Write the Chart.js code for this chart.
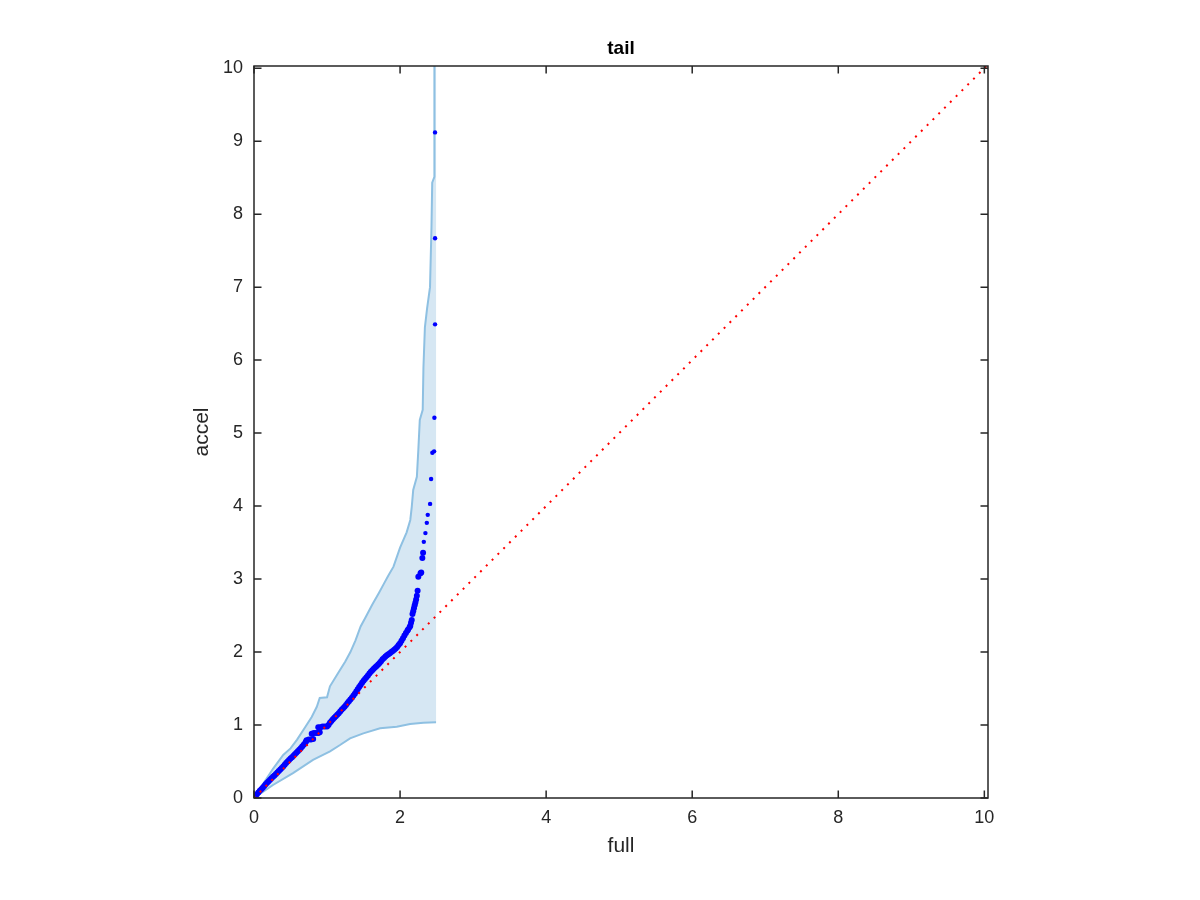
<!DOCTYPE html>
<html><head><meta charset="utf-8">
<script src="https://cdn.jsdelivr.net/npm/chart.js@4.4.1/dist/chart.umd.min.js"></script>
<style>html,body{margin:0;padding:0;background:#fff;}#wrap{width:1200px;height:900px;}</style>
</head><body><div id="wrap"><canvas id="c" width="1200" height="900"></canvas></div>
<script>
// Quantile points (full vs accel)
const qqFull = [0,0.02,0.04,0.06,0.08,0.10,0.12,0.14,0.16,0.18,0.20,0.22,0.24,0.26,0.28,0.30,0.32,0.34,0.36,0.38,
  0.40,0.42,0.44,0.46,0.48,0.50,0.52,0.54,0.56,0.58,0.60,0.62,0.64,0.66,0.68,0.70,0.71,
  0.72,0.75,0.78,0.81,0.79,0.82,0.85,0.88,0.90,0.88,0.91,0.94,0.97,1.00,1.02,1.04,1.06,1.08,1.10,1.12,1.14,1.16,
  1.18,1.20,1.22,1.24,1.26,1.28,1.30,1.32,1.34,1.36,1.38,1.40,1.42,1.44,1.46,1.48,1.50,1.52,1.54,1.56,1.58,1.60,
  1.62,1.64,1.66,1.68,1.70,1.72,1.74,1.76,1.78,1.80,1.82,1.84,1.86,1.88,1.90,1.92,1.94,1.96,1.98,2.00,2.02,2.04,
  2.06,2.08,2.10,2.11,2.13,2.14,2.15,2.16,2.17,2.18,2.19,2.20,2.21,2.22,2.23,2.24,2.25,2.28,2.29,2.305,2.315,
  2.325,2.347,2.366,2.379,2.411,2.425,2.442,2.466,2.470,2.479,2.479,2.479];
const qqAccel = [0,0.025,0.05,0.075,0.10,0.12,0.14,0.165,0.19,0.21,0.23,0.25,0.27,0.29,0.31,0.33,0.35,0.37,0.39,0.41,
  0.43,0.455,0.48,0.50,0.52,0.54,0.56,0.58,0.60,0.62,0.64,0.66,0.68,0.705,0.73,0.75,0.77,
  0.79,0.80,0.80,0.81,0.88,0.89,0.89,0.89,0.90,0.97,0.97,0.98,0.98,0.98,1.00,1.03,1.055,1.08,1.10,1.12,1.14,1.16,
  1.185,1.21,1.23,1.25,1.275,1.30,1.325,1.35,1.375,1.40,1.43,1.46,1.49,1.52,1.55,1.58,1.605,1.63,1.655,1.68,1.705,
  1.73,1.75,1.77,1.79,1.81,1.83,1.85,1.875,1.90,1.92,1.94,1.955,1.97,1.985,2.00,2.015,2.03,2.05,2.07,2.095,2.12,
  2.155,2.19,2.225,2.26,2.29,2.31,2.34,2.36,2.40,2.44,2.52,2.56,2.60,2.64,2.68,2.72,2.77,2.84,3.03,3.08,3.09,
  3.29,3.36,3.51,3.63,3.77,3.88,4.03,4.37,4.73,4.75,5.21,6.49,7.67,9.12];
// Confidence band
const upperFull = [0,0.13,0.26,0.40,0.50,0.59,0.70,0.79,0.86,0.90,1.00,1.04,1.15,1.25,1.32,1.39,1.46,1.53,1.62,
  1.71,1.77,1.84,1.91,2.00,2.09,2.14,2.16,2.18,2.23,2.25,2.27,2.31,2.32,2.34,2.37,2.41,2.43,2.44,2.47,2.47];
const upperAccel = [0,0.20,0.40,0.59,0.68,0.80,0.97,1.11,1.25,1.37,1.38,1.53,1.71,1.87,2.00,2.16,2.35,2.48,2.65,
  2.81,2.92,3.05,3.17,3.43,3.64,3.81,3.99,4.22,4.40,4.77,5.18,5.32,5.90,6.45,6.71,7.00,7.82,8.43,8.51,10.6];
const lowerFull = [0,0.260,0.534,0.808,1.041,1.178,1.315,1.497,1.726,1.955,2.137,2.319,2.493];
const lowerAccel = [0,0.178,0.342,0.521,0.640,0.726,0.818,0.886,0.955,0.977,1.014,1.032,1.037];
// Reference line y = x
const refLine = [0, 10.05];
const xTicks = [0,2,4,6,8,10];
const yTicks = [0,1,2,3,4,5,6,7,8,9,10];

const pts = (xs, ys) => xs.map((x, i) => ({x: x, y: ys[i]}));
const upperPts = pts(upperFull, upperAccel);
const lowerPts = pts(lowerFull, lowerAccel);
const bandPoly = upperPts.concat([{x: lowerFull[lowerFull.length-1], y: upperAccel[upperAccel.length-1]}])
  .concat(lowerPts.slice().reverse());

const FONT = '"Liberation Sans", Arial, Helvetica, sans-serif';
const AXC = '#262626';

const framePlugin = {
  id: 'frame',
  afterDatasetsDraw(chart) {
    const {ctx, chartArea: a, scales: {x, y}} = chart;
    ctx.save();
    ctx.strokeStyle = AXC; ctx.lineWidth = 1.5;
    ctx.strokeRect(a.left, a.top, a.right - a.left, a.bottom - a.top);
    const L = 7.5;
    ctx.beginPath();
    x.ticks.forEach(t => { const p = x.getPixelForValue(t.value);
      ctx.moveTo(p, a.bottom); ctx.lineTo(p, a.bottom - L); ctx.moveTo(p, a.top); ctx.lineTo(p, a.top + L); });
    y.ticks.forEach(t => { const p = y.getPixelForValue(t.value);
      ctx.moveTo(a.left, p); ctx.lineTo(a.left + L, p); ctx.moveTo(a.right, p); ctx.lineTo(a.right - L, p); });
    ctx.stroke();
    ctx.restore();
  }
};

new Chart(document.getElementById('c'), {
  type: 'scatter',
  data: {
    datasets: [
      { data: bandPoly, showLine: true, borderWidth: 0, pointRadius: 0, fill: 'shape',
        backgroundColor: '#d6e7f3', borderColor: 'rgba(0,0,0,0)', order: 6 },
      { data: upperPts, showLine: true, borderWidth: 2, pointRadius: 0, fill: false,
        borderColor: '#8ec0e2', order: 5 },
      { data: lowerPts, showLine: true, borderWidth: 2, pointRadius: 0, fill: false,
        borderColor: '#8ec0e2', order: 4 },
      { data: pts(qqFull, qqAccel), showLine: false,
        pointRadius: c => (c.raw && c.raw.y > 3.5 ? 2.2 : 3), borderWidth: 0,
        backgroundColor: '#0000ff', pointBorderColor: '#0000ff', order: 2 },
      { data: pts(refLine, refLine), showLine: true, borderWidth: 2, pointRadius: 0,
        borderColor: '#ff0000', borderDash: [2, 6.2], fill: false, order: 1 }
    ]
  },
  options: {
    responsive: false, animation: false, devicePixelRatio: 1,
    layout: { padding: { left: 0, right: 212, top: 0, bottom: 0 } },
    plugins: {
      legend: { display: false }, tooltip: { enabled: false },
      title: { display: true, text: 'tail', fullSize: false, color: '#000',
        font: { family: FONT, size: 19, weight: 'bold' }, padding: { top: 37, bottom: 6.2 } }
    },
    scales: {
      x: { type: 'linear', min: 0, max: 10.05,
        afterFit: s => { s.height = 102; },
        afterBuildTicks: s => { s.ticks = xTicks.map(v => ({value: v})); },
        grid: { display: false, drawTicks: false }, border: { display: false },
        ticks: { color: AXC, padding: 9, font: { family: FONT, size: 18 }, maxRotation: 0,
          callback: v => String(v) },
        title: { display: true, text: 'full', color: AXC, font: { family: FONT, size: 21 },
          padding: { top: 0, bottom: 41 } } },
      y: { type: 'linear', min: 0, max: 10.03,
        afterFit: s => { s.width = 254; },
        afterBuildTicks: s => { s.ticks = yTicks.map(v => ({value: v})); },
        grid: { display: false, drawTicks: false }, border: { display: false },
        ticks: { color: AXC, padding: 11, font: { family: FONT, size: 18 },
          callback: v => String(v) },
        title: { display: true, text: 'accel', color: AXC, font: { family: FONT, size: 21 },
          padding: { top: 190, bottom: 0 } } }
    }
  },
  plugins: [framePlugin]
});
</script></body></html>
